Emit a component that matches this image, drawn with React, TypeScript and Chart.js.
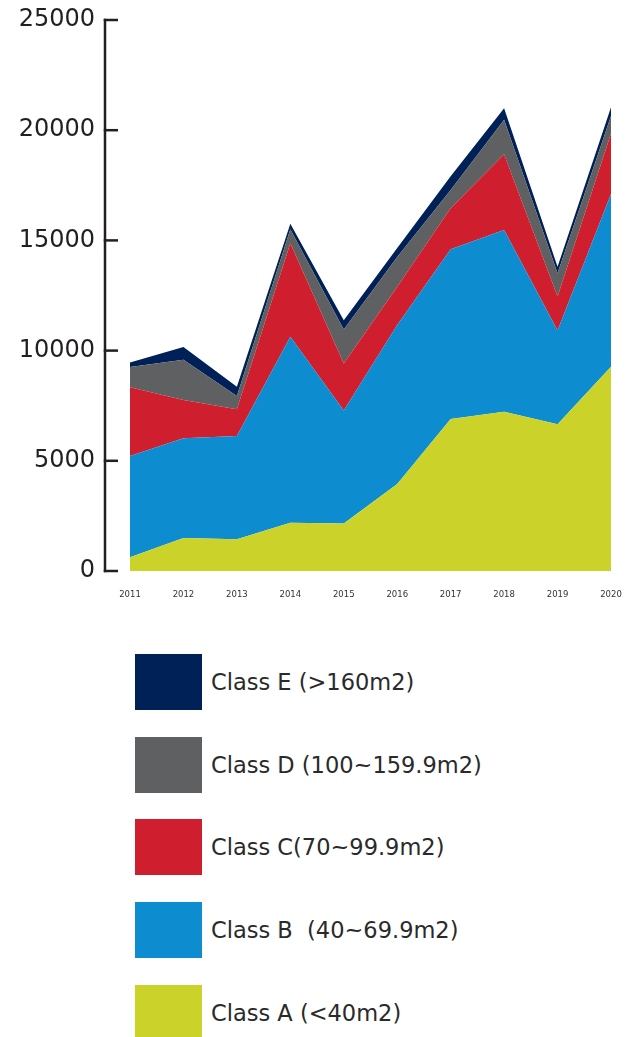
import React, { useEffect, useRef } from "react";
import { Chart, registerables } from "chart.js";

Chart.register(...registerables);

const years = ["2011", "2012", "2013", "2014", "2015", "2016", "2017", "2018", "2019", "2020"];
const classA = [620, 1500, 1440, 2190, 2160, 3950, 6900, 7230, 6660, 9270];
const classB = [4600, 4520, 4690, 8440, 5120, 7210, 7700, 8240, 4250, 7830];
const classC = [3120, 1740, 1210, 4240, 2140, 1740, 1860, 3440, 1540, 2750];
const classD = [920, 1820, 600, 640, 1540, 1350, 830, 1560, 1060, 790];
const classE = [200, 580, 420, 240, 420, 400, 620, 530, 300, 400];
const yTickValues = [0, 5000, 10000, 15000, 20000, 25000];

const seriesLabels = [
  "Class A (<40m2)",
  "Class B  (40~69.9m2)",
  "Class C(70~99.9m2)",
  "Class D (100~159.9m2)",
  "Class E (>160m2)",
];
const seriesData = [classA, classB, classC, classD, classE];
const seriesColors = ["#cbd32a", "#0d8dcf", "#cf1f2f", "#5f6062", "#002157"];

const FONT = "'DejaVu Sans', sans-serif";

const axisPlugin = {
  id: "customAxis",
  afterDraw(chart: any) {
    const y = chart.scales.y;
    const { ctx, chartArea } = chart;
    const x0 = chartArea.left - 25;
    ctx.save();
    ctx.strokeStyle = "#231f20";
    ctx.lineWidth = 2.5;
    ctx.beginPath();
    ctx.moveTo(x0, y.getPixelForValue(yTickValues[yTickValues.length - 1]) - 1.25);
    ctx.lineTo(x0, y.getPixelForValue(0) + 1.25);
    ctx.stroke();
    y.ticks.forEach((t: any) => {
      const py = y.getPixelForValue(t.value);
      ctx.beginPath();
      ctx.moveTo(x0 - 1.25, py);
      ctx.lineTo(x0 + 13, py);
      ctx.stroke();
    });
    ctx.restore();
  },
};

function AreaChart() {
  const ref = useRef<HTMLCanvasElement>(null);
  useEffect(() => {
    if (!ref.current) return;
    const chart = new Chart(ref.current, {
      type: "line",
      data: {
        labels: years,
        datasets: seriesData.map((d, i) => ({
          label: seriesLabels[i],
          data: d,
          backgroundColor: seriesColors[i],
          borderColor: seriesColors[i],
          borderWidth: 0,
          pointRadius: 0,
          tension: 0,
          fill: i === 0 ? "origin" : "-1",
        })),
      },
      options: {
        animation: false,
        responsive: false,
        layout: { padding: { top: 20, right: 23, left: 0, bottom: 0 } },
        plugins: { legend: { display: false }, tooltip: { enabled: false } },
        scales: {
          x: {
            grid: { display: false, drawTicks: false },
            border: { display: false },
            ticks: {
              font: { family: FONT, size: 8.5 },
              color: "#333",
              padding: 19,
              maxRotation: 0,
              autoSkip: false,
            },
            afterFit: (s: any) => {
              s.height = 49;
              s.paddingLeft = 0;
              s.paddingRight = 0;
            },
          },
          y: {
            stacked: true,
            min: 0,
            max: 25000,
            grid: { display: false, drawTicks: false },
            border: { display: false },
            ticks: {
              stepSize: 5000,
              font: { family: FONT, size: 24 },
              color: "#231f20",
              padding: 35,
              callback: (v: any) => String(v),
            },
            afterFit: (s: any) => {
              s.width = 130;
              s.paddingTop = 0;
              s.paddingBottom = 0;
            },
          },
        },
      },
      plugins: [axisPlugin],
    });
    return () => chart.destroy();
  }, []);
  return (
    <canvas
      ref={ref}
      width={634}
      height={620}
      style={{ width: 634, height: 620, display: "block" }}
    />
  );
}

export default function App() {
  const legendOrder = [4, 3, 2, 1, 0];
  return (
    <div style={{ position: "absolute", left: 0, top: 0, width: 634, height: 1037, background: "#fff", overflow: "hidden" }}>
      <AreaChart />
      {legendOrder.map((idx, i) => (
        <div
          key={idx}
          style={{
            position: "absolute",
            left: 135,
            top: 654 + i * 82.7,
            height: 56,
            display: "flex",
            alignItems: "center",
          }}
        >
          <div style={{ width: 67, height: 56, background: seriesColors[idx] }} />
          <span
            style={{
              marginLeft: 9,
              fontFamily: FONT,
              fontSize: 22.5,
              color: "#2a2a2a",
              whiteSpace: "pre",
              lineHeight: "56px",
            }}
          >
            {seriesLabels[idx]}
          </span>
        </div>
      ))}
    </div>
  );
}
